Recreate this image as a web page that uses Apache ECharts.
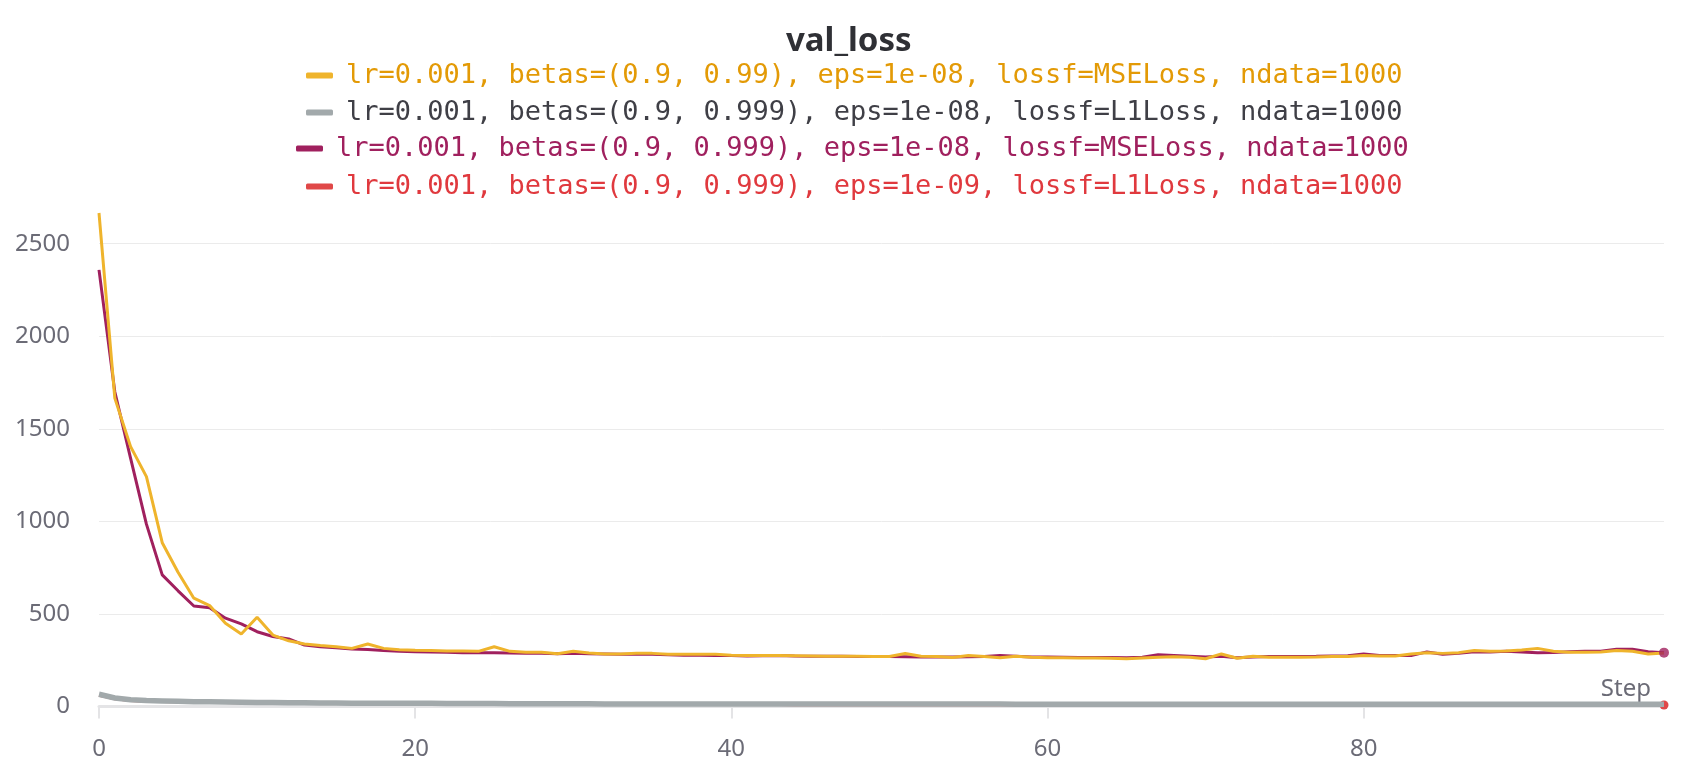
<!DOCTYPE html>
<html>
<head>
<meta charset="utf-8">
<script src="https://cdn.jsdelivr.net/npm/echarts@6/dist/echarts.min.js"></script>
<style>html,body{margin:0;padding:0;background:#fff;}#c{width:1686px;height:776px;}</style>
</head>
<body>
<div id="c"></div>
<script>
const titleText = 'val_loss';
const xName = 'Step';
const seriesNames = [
  'lr=0.001, betas=(0.9, 0.99), eps=1e-08, lossf=MSELoss, ndata=1000',
  'lr=0.001, betas=(0.9, 0.999), eps=1e-08, lossf=L1Loss, ndata=1000',
  'lr=0.001, betas=(0.9, 0.999), eps=1e-08, lossf=MSELoss, ndata=1000',
  'lr=0.001, betas=(0.9, 0.999), eps=1e-09, lossf=L1Loss, ndata=1000'
];
const steps = Array.from({length: 100}, (_, i) => i);
const yellowMSE = [2666,1666,1404,1242,885,725,585,545,450,392,482,386,355,338,329,323,314,338,314,307,
  304,302,300,300,298,323,298,293,293,285,298,289,284,284,287,287,282,282,282,282,
  277,275,276,275,274,273,272,271,271,270,270,286,272,270,265,276,270,263,272,266,
  264,264,262,262,261,258,262,266,269,266,258,284,261,271,266,266,266,267,270,270,
  275,273,273,284,291,287,291,302,298,300,305,314,298,293,293,295,302,298,284,289];
const grayL1 = [66,46,36,32,30,28,26,25,24,23,22,21,20,20,19,19,18,18,18,17,
  17,17,16,16,16,16,15,15,15,15,15,15,14,14,14,14,14,14,14,14,
  13,13,13,13,13,13,13,13,13,13,13,13,13,13,13,13,13,13,12,12,
  12,12,12,12,12,12,12,12,12,12,12,12,12,12,12,12,12,12,12,12,
  12,12,12,12,12,12,12,12,12,12,12,12,12,12,12,12,12,12,12,12];
const purpleMSE = [2359,1700,1340,985,711,625,543,534,477,446,404,378,365,332,323,318,311,308,302,298,
  296,295,293,291,291,291,289,287,287,285,287,285,284,282,282,282,279,277,277,275,
  275,273,274,276,273,272,272,271,270,270,270,269,268,268,268,269,270,275,272,268,
  267,266,265,265,265,264,266,280,276,272,268,271,264,268,270,270,270,271,273,274,
  284,275,276,275,295,282,287,296,295,298,295,291,292,296,298,298,309,309,296,291];
const redL1 = [60,42,33,29,27,25,23,22,21,20,19,18,18,17,17,16,16,15,15,15,
  14,14,14,14,13,13,13,13,13,12,12,12,12,12,12,11,11,11,11,11,
  11,11,11,11,10,10,10,10,10,10,10,10,10,10,10,10,10,10,10,10,
  10,9,9,9,9,9,9,9,9,9,9,9,9,9,9,9,9,9,9,9,
  9,9,9,9,9,8,8,8,8,8,8,8,8,8,8,8,8,8,8,8];
const yTicks = [0, 500, 1000, 1500, 2000, 2500];

const lineColors = ['#efb42c', '#a2a9ab', '#a0205e', '#e04848'];
const textColors = ['#e39a06', '#3f3f46', '#a0205e', '#e0393e'];
const legendTops = [57, 94, 130, 168];
const legendLefts = [301, 301, 291, 301];

const pairs = arr => arr.map((v, i) => [steps[i], v]);
const last = steps.length - 1;

const chart = echarts.init(document.getElementById('c'), null, {renderer: 'canvas'});
chart.setOption({
  animation: false,
  backgroundColor: '#ffffff',
  title: {
    text: titleText,
    left: 781,
    top: 20,
    textStyle: {fontFamily: 'Noto Sans', fontWeight: 'bold', fontSize: 33, color: '#2f3035'}
  },
  legend: seriesNames.map((n, i) => ({
    data: [{name: n, itemStyle: {color: lineColors[i]}}],
    left: legendLefts[i],
    top: legendTops[i],
    icon: 'roundRect',
    itemWidth: 27,
    itemHeight: 6,
    selectedMode: false,
    textStyle: {fontFamily: 'DejaVu Sans Mono', fontSize: 27, color: textColors[i], padding: [0, 0, 0, 8]}
  })),
  grid: {left: 99, right: 22, top: 213, bottom: 69.5, containLabel: false},
  xAxis: {
    type: 'value',
    min: 0,
    max: last,
    interval: 20,
    name: xName,
    nameLocation: 'end',
    nameGap: -13,
    nameTextStyle: {fontFamily: 'Noto Sans', fontSize: 24, color: '#6b6b76', align: 'right', verticalAlign: 'bottom', padding: [0, 0, 5, 0]},
    axisLine: {show: true, lineStyle: {color: '#e4e4e6', width: 3}},
    axisTick: {show: true, length: 12, lineStyle: {color: '#e4e4e6', width: 2}},
    axisLabel: {fontFamily: 'Noto Sans', fontSize: 24, color: '#6b6b76', margin: 31, showMaxLabel: false},
    splitLine: {show: false}
  },
  yAxis: {
    type: 'value',
    min: 0,
    max: 'dataMax',
    interval: 500,
    axisLine: {show: false},
    axisTick: {show: false},
    axisLabel: {fontFamily: 'Noto Sans', fontSize: 24, color: '#6b6b76', margin: 29, showMaxLabel: false,
      formatter: v => (yTicks.indexOf(v) >= 0 ? String(v) : '')},
    splitLine: {show: true, showMaxLine: false, lineStyle: {color: '#ebebeb', width: 1}}
  },
  series: [
    {name: seriesNames[3], type: 'line', data: pairs(redL1), color: lineColors[3],
      lineStyle: {width: 3, color: lineColors[3]}, showSymbol: true, showAllSymbol: true, symbol: 'circle',
      symbolSize: (v, p) => (p.dataIndex === last ? 9 : 0), itemStyle: {color: lineColors[3]}, z: 2},
    {name: seriesNames[1], type: 'line', data: pairs(grayL1), color: lineColors[1],
      lineStyle: {width: 5.5, color: lineColors[1]}, showSymbol: false, z: 3},
    {name: seriesNames[2], type: 'line', data: pairs(purpleMSE), color: lineColors[2],
      lineStyle: {width: 3, color: lineColors[2]}, showSymbol: false, z: 4},
    {name: seriesNames[0], type: 'line', data: pairs(yellowMSE), color: lineColors[0],
      lineStyle: {width: 3, color: lineColors[0]}, showSymbol: false, z: 5},
    {name: 'purple-end', type: 'scatter', data: [[steps[last], purpleMSE[last]]], symbolSize: 10,
      itemStyle: {color: lineColors[2]}, z: 6}
  ]
});
</script>
</body>
</html>
